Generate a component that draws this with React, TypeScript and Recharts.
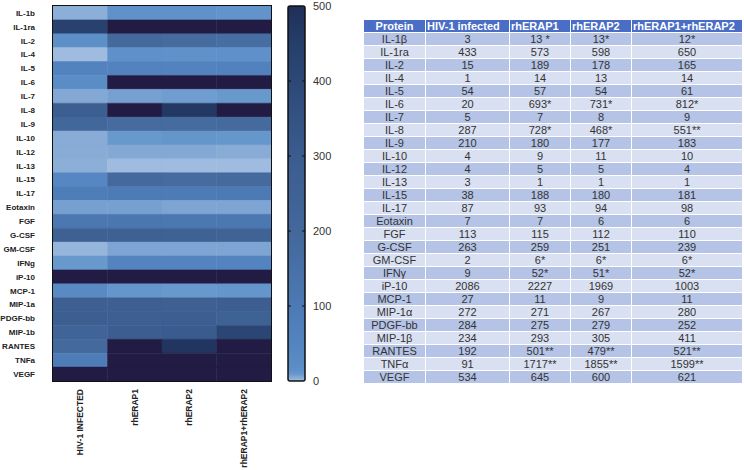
import React from 'react';
import {
  BarChart,
  Bar,
  Cell,
  XAxis,
  YAxis,
} from 'recharts';

// heatmap row labels (as printed on the heatmap)
const heatLabels = [
  'IL-1b', 'IL-1ra', 'IL-2', 'IL-4', 'IL-5', 'IL-6', 'IL-7', 'IL-8', 'IL-9',
  'IL-10', 'IL-12', 'IL-13', 'IL-15', 'IL-17', 'Eotaxin', 'FGF', 'G-CSF',
  'GM-CSF', 'IFNg', 'iP-10', 'MCP-1', 'MIP-1a', 'PDGF-bb', 'MIP-1b', 'RANTES',
  'TNFa', 'VEGF',
];

// same proteins as written in the table
const tableLabels = [
  'IL-1β', 'IL-1ra', 'IL-2', 'IL-4', 'IL-5', 'IL-6', 'IL-7', 'IL-8', 'IL-9',
  'IL-10', 'IL-12', 'IL-13', 'IL-15', 'IL-17', 'Eotaxin', 'FGF', 'G-CSF',
  'GM-CSF', 'IFNγ', 'iP-10', 'MCP-1', 'MIP-1α', 'PDGF-bb', 'MIP-1β', 'RANTES',
  'TNFα', 'VEGF',
];

const conditions = ['HIV-1 INFECTED', 'rhERAP1', 'rhERAP2', 'rhERAP1+rhERAP2'];
const tableHeaders = ['Protein', 'HIV-1 infected', 'rhERAP1', 'rhERAP2', 'rhERAP1+rhERAP2'];

const hivInfected = [3, 433, 15, 1, 54, 20, 5, 287, 210, 4, 4, 3, 38, 87, 7, 113, 263, 2, 9, 2086, 27, 272, 284, 234, 192, 91, 534];
const rhERAP1 = [13, 573, 189, 14, 57, 693, 7, 728, 180, 9, 5, 1, 188, 93, 7, 115, 259, 6, 52, 2227, 11, 271, 275, 293, 501, 1717, 645];
const rhERAP2 = [13, 598, 178, 13, 54, 731, 8, 468, 177, 11, 5, 1, 180, 94, 6, 112, 251, 6, 51, 1969, 9, 267, 279, 305, 479, 1855, 600];
const rhERAP12 = [12, 650, 165, 14, 61, 812, 9, 551, 183, 10, 4, 1, 181, 98, 6, 110, 239, 6, 52, 1003, 11, 280, 252, 411, 521, 1599, 621];

// significance marks shown after the values in the table
const sig1 = [' *', '', '', '', '', '*', '', '*', '', '', '', '', '', '', '', '', '', '*', '*', '', '', '', '', '', '**', '**', ''];
const sig2 = ['*', '', '', '', '', '*', '', '*', '', '', '', '', '', '', '', '', '', '*', '*', '', '', '', '', '', '**', '**', ''];
const sig12 = ['*', '', '', '', '', '*', '', '**', '', '', '', '', '', '', '', '', '', '*', '*', '', '', '', '', '', '**', '**', ''];

const scaleTicks = [0, 100, 200, 300, 400, 500];

const series = [hivInfected, rhERAP1, rhERAP2, rhERAP12];
const sigs = [[], sig1, sig2, sig12];

// colour map (value -> colour), nonlinear near zero like the original
const colorStops: [number, string][] = [
  [0, '#b3cae6'],
  [1, '#9fbbdf'],
  [3, '#8cafd7'],
  [5, '#83a8d4'],
  [7, '#77a0d0'],
  [9, '#6899cd'],
  [13, '#6091c9'],
  [20, '#5a8cc6'],
  [55, '#5383be'],
  [100, '#4c7ab4'],
  [190, '#44699c'],
  [300, '#3b5c8f'],
  [400, '#2d4877'],
  [450, '#263e6a'],
  [500, '#1f2f59'],
];
const overColor = '#221c45';

const hexToRgb = (h: string) => [1, 3, 5].map((i) => parseInt(h.slice(i, i + 2), 16));

const heatColor = (v: number) => {
  if (v > 500) return overColor;
  for (let i = 1; i < colorStops.length; i++) {
    const [v1, c1] = colorStops[i];
    if (v <= v1) {
      const [v0, c0] = colorStops[i - 1];
      const t = (v - v0) / (v1 - v0);
      const a = hexToRgb(c0);
      const b = hexToRgb(c1);
      const rgb = a.map((x, k) => Math.round(x + (b[k] - x) * t));
      return `rgb(${rgb.join(',')})`;
    }
  }
  return colorStops[colorStops.length - 1][1];
};

const heatRows = heatLabels.map((protein) => ({ protein, c0: 1, c1: 1, c2: 1, c3: 1 }));

const ColumnTick = (props: any) => {
  const { x, y, payload } = props;
  const label = conditions[Math.floor(payload.value)];
  return (
    <text
      transform={`translate(${x + 3},${y}) rotate(-90)`}
      textAnchor="end"
      fontSize={8.5}
      fontWeight="bold"
      fontFamily="Arial, 'Liberation Sans', sans-serif"
      fill="#222"
    >
      {label}
    </text>
  );
};

const ScaleTick = (props: any) => {
  const { x, y, payload } = props;
  const inner = payload.value > 0 && payload.value < 500;
  return (
    <g>
      {inner && <line x1={x - 25} x2={x - 22} y1={y} y2={y} stroke="#111" strokeWidth={1} />}
      {inner && <line x1={x - 11} x2={x - 8} y1={y} y2={y} stroke="#111" strokeWidth={1} />}
      <text x={x} y={y} dy={4} fontSize={11} fill="#333" fontFamily="Arial, 'Liberation Sans', sans-serif">
        {payload.value}
      </text>
    </g>
  );
};

const cellStyle: React.CSSProperties = {
  border: '1px solid #ffffff',
  padding: 0,
  height: 12,
  lineHeight: '12px',
  textAlign: 'center',
  whiteSpace: 'nowrap',
};

const colWidths = [62, 84, 61, 61, 111];

const DataTable = () => (
  <table
    style={{
      position: 'absolute',
      left: 363,
      top: 19,
      width: 379,
      borderCollapse: 'collapse',
      tableLayout: 'fixed',
      fontFamily: "Arial, 'Liberation Sans', sans-serif",
      fontSize: 11,
      color: '#333',
    }}
  >
    <colgroup>
      {colWidths.map((w, i) => (
        <col key={i} style={{ width: w }} />
      ))}
    </colgroup>
    <thead>
      <tr style={{ background: '#4a6dc5' }}>
        {tableHeaders.map((h, i) => (
          <th
            key={h}
            style={{
              ...cellStyle,
              color: '#fff',
              fontWeight: 'bold',
              fontSize: 11,
              textAlign: i === 0 ? 'center' : 'left',
              paddingLeft: i === 0 ? 0 : 1,
            }}
          >
            {h}
          </th>
        ))}
      </tr>
    </thead>
    <tbody>
      {tableLabels.map((p, r) => (
        <tr key={p} style={{ background: r % 2 === 0 ? '#b4c3e6' : '#d9e0f1' }}>
          <td style={cellStyle}>{p}</td>
          {series.map((s, c) => (
            <td key={c} style={cellStyle}>
              {s[r]}
              {sigs[c][r] || ''}
            </td>
          ))}
        </tr>
      ))}
    </tbody>
  </table>
);

export default function App() {
  return (
    <div style={{ position: 'absolute', left: 0, top: 0, width: 744, height: 470, background: '#fff' }}>
      <div style={{ position: 'absolute', left: 0, top: 0 }}>
        <BarChart
          width={280}
          height={470}
          data={heatRows}
          layout="vertical"
          barCategoryGap={0}
          barGap={0}
          margin={{ top: 6, right: 9, bottom: 9, left: 0 }}
        >
          <XAxis
            type="number"
            domain={[0, 4]}
            ticks={[0.5, 1.5, 2.5, 3.5]}
            height={80}
            axisLine={false}
            tickLine={false}
            tickSize={0}
            tickMargin={8}
            interval={0}
            tick={<ColumnTick />}
          />
          <YAxis
            type="category"
            dataKey="protein"
            width={53}
            axisLine={false}
            tickLine={false}
            tickSize={0}
            tickMargin={18}
            interval={0}
            tick={{ fontSize: 8, fontWeight: 'bold', fill: '#222', fontFamily: "Arial, 'Liberation Sans', sans-serif" }}
          />
          {series.map((s, c) => (
            <Bar key={c} dataKey={`c${c}`} stackId="heat" isAnimationActive={false}>
              {s.map((v, i) => (
                <Cell key={i} fill={heatColor(v)} stroke={heatColor(v)} strokeWidth={0.5} />
              ))}
            </Bar>
          ))}
        </BarChart>
      </div>
      {/* frame round the heatmap plot area */}
      <div
        style={{
          position: 'absolute',
          left: 52,
          top: 5,
          width: 218,
          height: 375,
          border: '1.5px solid #111',
          pointerEvents: 'none',
        }}
      />
      <div style={{ position: 'absolute', left: 270, top: 0 }}>
        <BarChart
          width={80}
          height={470}
          data={[{ name: 'scale', top: 500 }]}
          barCategoryGap={0}
          margin={{ top: 6, right: 5, bottom: 89, left: 18 }}
        >
          <defs>
            <linearGradient id="cbar" x1="0" y1="1" x2="0" y2="0">
              {colorStops.map(([v, c]) => (
                <stop key={v} offset={v / 500} stopColor={c} />
              ))}
            </linearGradient>
          </defs>
          <XAxis dataKey="name" hide />
          <YAxis
            orientation="right"
            domain={[0, 500]}
            ticks={scaleTicks}
            width={40}
            axisLine={false}
            tickLine={false}
            tickSize={0}
            tickMargin={8}
            interval={0}
            tick={<ScaleTick />}
          />
          <Bar
            dataKey="top"
            fill="url(#cbar)"
            stroke="#111"
            strokeWidth={1.5}
            radius={2}
            isAnimationActive={false}
          />
        </BarChart>
      </div>
      <DataTable />
    </div>
  );
}
